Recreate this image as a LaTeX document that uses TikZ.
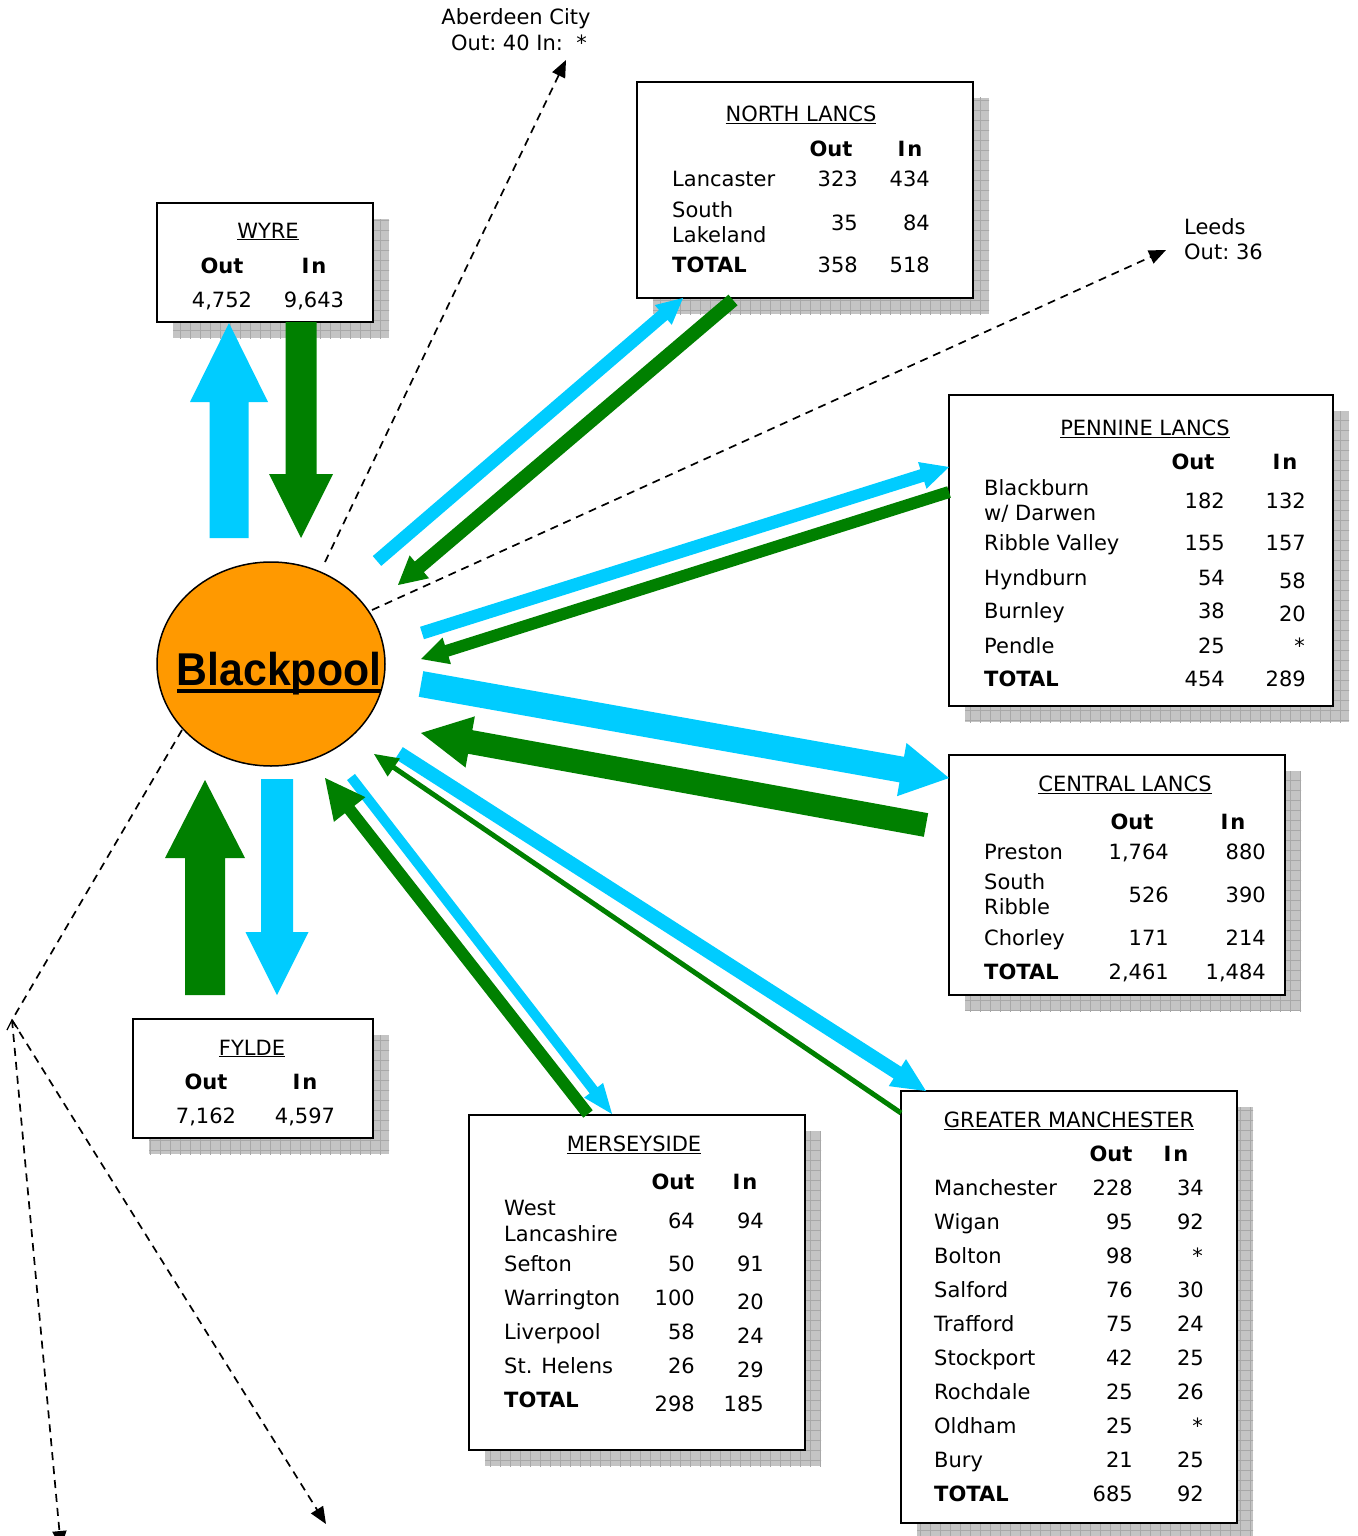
\documentclass[tikz,border=0pt]{standalone}
\usepackage{fontspec}
\setmainfont{DejaVu Sans}
\newfontfamily\arialfont{Liberation Sans}
\usetikzlibrary{arrows.meta,shapes.geometric,calc}
\definecolor{cyc}{RGB}{0,204,255}
\definecolor{grc}{RGB}{0,128,0}
\definecolor{orc}{RGB}{255,153,0}
\definecolor{shadowc}{RGB}{196,196,196}
\definecolor{gridc}{RGB}{168,168,168}
\newcommand\regbox[5]{%
  \begin{scope}
    \clip (#2+16,#3+16) rectangle (#4+16,#5+16);
    \fill[shadowc] (#2+16,#3+16) rectangle (#4+16,#5+16);
    \draw[gridc, line width=0.7pt, step=10pt] (#2,#3) grid (#4+20,#5+20);
  \end{scope}
  \node[regst, anchor=north west, minimum width=#4-#2, minimum height=#5-#3] (#1) at (#2,#3) {};}
% color, start, end, half shaft, half head, head length
\newcommand\blockarr[6]{%
  \path coordinate (bh) at ($(#3)!#6pt!(#2)$);
  \fill[#1] ($(#2)!#4pt!90:(#3)$) -- ($(bh)!#4pt!90:(#3)$) -- ($(bh)!#5pt!90:(#3)$) -- (#3)
     -- ($(bh)!#5pt!-90:(#3)$) -- ($(bh)!#4pt!-90:(#3)$) -- ($(#2)!#4pt!-90:(#3)$) -- cycle;}
\begin{document}
\begin{tikzpicture}[x=1pt,y=-1pt,
  regst/.style={draw=black, fill=white, line width=2pt, inner sep=0pt, outer sep=0pt},
  txt/.style={inner sep=0pt, font=\fontsize{21}{25}\selectfont},
  lt/.style={txt, anchor=base west},
  rt/.style={txt, anchor=base east},
  ct/.style={txt, anchor=base},
  hd/.style={inner sep=0pt, anchor=base, font=\fontsize{21}{25}\selectfont\bfseries},
  bl/.style={inner sep=0pt, anchor=base west, font=\fontsize{21}{25}\selectfont\bfseries},
  dline/.style={black, line width=1.7pt, dash pattern=on 8pt off 6pt, -{Triangle[length=17pt,width=14pt]}}]
\useasboundingbox (0,0) rectangle (1357,1536);
\fill[white] (0,0) rectangle (1357,1536);

% ---------- boxes ----------
\regbox{wyre}{157}{203}{373}{322}
\regbox{nl}{637}{82}{973}{298}
\regbox{pl}{949}{395}{1333}{706}
\regbox{cl}{949}{755}{1285}{995}
\regbox{fy}{133}{1019}{373}{1138}
\regbox{ms}{469}{1115}{805}{1450}
\regbox{gm}{901}{1091}{1237}{1523}

% ---------- Blackpool ----------
\node[ellipse, draw=black, line width=1.5pt, fill=orc, minimum width=228pt, minimum height=204pt, inner sep=0pt] (bp) at (271,664) {};
\node[inner sep=0pt, anchor=base, font=\arialfont\bfseries\fontsize{46}{50}\selectfont] (bpt) at (279,685) {\scalebox{0.93}[1]{Blackpool}};
\draw[line width=4pt] (177,691) -- (381,691);

% ---------- dashed connectors ----------
\coordinate (dA0) at (325,562);
\coordinate (dA1) at (566,60);
\coordinate (dL0) at (372,610);
\coordinate (dL1) at (1166,250);
\coordinate (dC0) at (182,730);
\coordinate (dC1) at (12,1020);
\coordinate (dB1) at (61,1548);
\coordinate (dB2) at (326,1524);
\draw[dline] (dA0) -- (dA1);
\draw[dline] (dL0) -- (dL1);
\draw[black, line width=1.7pt, dash pattern=on 8pt off 6pt] (dC0) -- (dC1);
\draw[dline] (dC1) -- (dB1);
\draw[dline] (dC1) -- (dB2);
\draw[black, line width=1.3pt] ($(dC1)+(-5,10)$) -- (dC1) -- ($(dC1)+(6,9)$);

% ---------- block arrows ----------
% Wyre
\coordinate (w1a) at (229,538); \coordinate (w1b) at (229,323);
\coordinate (w2a) at (301,322); \coordinate (w2b) at (301,538);
\blockarr{cyc}{w1a}{w1b}{19.5}{39}{79}
\blockarr{grc}{w2a}{w2b}{15.5}{32}{64}
% Fylde
\coordinate (f1a) at (205,995); \coordinate (f1b) at (205,780);
\coordinate (f2a) at (277,779); \coordinate (f2b) at (277,995);
\blockarr{grc}{f1a}{f1b}{20}{40}{78}
\blockarr{cyc}{f2a}{f2b}{16}{31.5}{63}
% North Lancs
\coordinate (n1a) at (377,561); \coordinate (n1b) at (683,298);
\coordinate (n2a) at (733,300); \coordinate (n2b) at (398,585);
\blockarr{cyc}{n1a}{n1b}{6.5}{13}{26}
\blockarr{grc}{n2a}{n2b}{7}{15}{28}
% Pennine Lancs
\coordinate (p1a) at (422,633); \coordinate (p1b) at (949,467);
\coordinate (p2a) at (949,492); \coordinate (p2b) at (421,659);
\blockarr{cyc}{p1a}{p1b}{6.5}{14}{28}
\blockarr{grc}{p2a}{p2b}{6}{14}{27}
% Central Lancs
\coordinate (c1a) at (421,684); \coordinate (c1b) at (949,778);
\coordinate (c2a) at (926,825); \coordinate (c2b) at (421,733);
\blockarr{cyc}{c1a}{c1b}{13}{27}{48}
\blockarr{grc}{c2a}{c2b}{12}{26}{50}
% Merseyside
\coordinate (m1a) at (351,777); \coordinate (m1b) at (612,1114);
\coordinate (m2a) at (588,1114); \coordinate (m2b) at (325,778);
\blockarr{cyc}{m1a}{m1b}{5}{12}{30}
\blockarr{grc}{m2a}{m2b}{6}{20}{40}
% Greater Manchester
\coordinate (g1a) at (399,753); \coordinate (g1b) at (926,1091);
\coordinate (g2a) at (901,1113); \coordinate (g2b) at (374,754);
\blockarr{cyc}{g1a}{g1b}{7}{16}{34}
\blockarr{grc}{g2a}{g2b}{2.5}{11}{24}

% ---------- outer labels ----------
\node[ct] (abt1) at (516,25) {Aberdeen City};
\node[ct] (abt2) at (519,51) {Out:\ 40 In:\ \ *};
\node[lt] (ldt1) at (1184,234) {Leeds};
\node[lt] (ldt2) at (1184,259) {Out:\ 36};

% ---------- WYRE ----------
\node[ct] (wyt) at (268,238) {\underline{WYRE}};
\node[hd] (wyo) at (222,273) {Out};
\node[hd] (wyi) at (314,273) {I\kern2pt n};
\node[ct] (wy1) at (222,307) {4,752};
\node[ct] (wy2) at (314,307) {9,643};

% ---------- FYLDE ----------
\node[ct] (fyt) at (252,1055) {\underline{FYLDE}};
\node[hd] (fyo) at (206,1089) {Out};
\node[hd] (fyi) at (305,1089) {I\kern2pt n};
\node[ct] (fy1) at (206,1123) {7,162};
\node[ct] (fy2) at (305,1123) {4,597};

% ---------- NORTH LANCS ----------
\node[ct] (nlt) at (801,122) {\underline{NORTH LANCS}};
\node[hd] (nlo) at (831,157) {Out};
\node[hd] (nli) at (910,157) {I\kern2pt n};
\node[lt] (nla1) at (672,186) {Lancaster};
\node[rt] (nlb1) at (858,186) {323};
\node[rt] (nlc1) at (930,186) {434};
\node[lt] (nla2) at (672,217) {South};
\node[lt] (nla2b) at (672,242) {Lakeland};
\node[rt] (nlb2) at (858,230) {35};
\node[rt] (nlc2) at (930,230) {84};
\node[bl] (nla3) at (672,272) {TOTAL};
\node[rt] (nlb3) at (858,272) {358};
\node[rt] (nlc3) at (930,272) {518};

% ---------- PENNINE LANCS ----------
\node[ct] (plt) at (1145,435) {\underline{PENNINE LANCS}};
\node[hd] (plo) at (1193,469) {Out};
\node[hd] (pli) at (1285,469) {I\kern2pt n};
\node[lt] (pla1) at (984,495) {Blackburn};
\node[lt] (pla1b) at (984,520) {w/ Darwen};
\node[rt] (plb1) at (1225,508) {182};
\node[rt] (plc1) at (1306,508) {132};
\node[lt] (pla2) at (984,550) {Ribble Valley};
\node[rt] (plb2) at (1225,550) {155};
\node[rt] (plc2) at (1306,550) {157};
\node[lt] (pla3) at (984,585) {Hyndburn};
\node[rt] (plb3) at (1225,585) {54};
\node[rt] (plc3) at (1306,588) {58};
\node[lt] (pla4) at (984,618) {Burnley};
\node[rt] (plb4) at (1225,618) {38};
\node[rt] (plc4) at (1306,621) {20};
\node[lt] (pla5) at (984,653) {Pendle};
\node[rt] (plb5) at (1225,653) {25};
\node[rt] (plc5) at (1305,653) {*};
\node[bl] (pla6) at (984,686) {TOTAL};
\node[rt] (plb6) at (1225,686) {454};
\node[rt] (plc6) at (1306,686) {289};

% ---------- CENTRAL LANCS ----------
\node[ct] (clt) at (1125,791) {\underline{CENTRAL LANCS}};
\node[hd] (clo) at (1132,829) {Out};
\node[hd] (cli) at (1233,829) {I\kern2pt n};
\node[lt] (cla1) at (984,859) {Preston};
\node[rt] (clb1) at (1169,859) {1,764};
\node[rt] (clc1) at (1266,859) {880};
\node[lt] (cla2) at (984,889) {South};
\node[lt] (cla2b) at (984,914) {Ribble};
\node[rt] (clb2) at (1169,902) {526};
\node[rt] (clc2) at (1266,902) {390};
\node[lt] (cla3) at (984,945) {Chorley};
\node[rt] (clb3) at (1169,945) {171};
\node[rt] (clc3) at (1266,945) {214};
\node[bl] (cla4) at (984,979) {TOTAL};
\node[rt] (clb4) at (1169,979) {2,461};
\node[rt] (clc4) at (1266,979) {1,484};

% ---------- MERSEYSIDE ----------
\node[ct] (mst) at (634,1151) {\underline{MERSEYSIDE}};
\node[hd] (mso) at (673,1189) {Out};
\node[hd] (msi) at (745,1189) {I\kern2pt n};
\node[lt] (msa1) at (504,1215) {West};
\node[lt] (msa1b) at (504,1241) {Lancashire};
\node[rt] (msb1) at (695,1228) {64};
\node[rt] (msc1) at (764,1228) {94};
\node[lt] (msa2) at (504,1271) {Sefton};
\node[rt] (msb2) at (695,1271) {50};
\node[rt] (msc2) at (764,1271) {91};
\node[lt] (msa3) at (504,1305) {Warrington};
\node[rt] (msb3) at (695,1305) {100};
\node[rt] (msc3) at (764,1309) {20};
\node[lt] (msa4) at (504,1339) {Liverpool};
\node[rt] (msb4) at (695,1339) {58};
\node[rt] (msc4) at (764,1343) {24};
\node[lt] (msa5) at (504,1373) {St. Helens};
\node[rt] (msb5) at (695,1373) {26};
\node[rt] (msc5) at (764,1377) {29};
\node[bl] (msa6) at (504,1407) {TOTAL};
\node[rt] (msb6) at (695,1411) {298};
\node[rt] (msc6) at (764,1411) {185};

% ---------- GREATER MANCHESTER ----------
\node[ct] (gmt) at (1069,1127) {\underline{GREATER MANCHESTER}};
\node[hd] (gmo) at (1111,1161) {Out};
\node[hd] (gmi) at (1176,1161) {I\kern2pt n};
\node[lt] (gma1) at (934,1195) {Manchester};
\node[rt] (gmb1) at (1133,1195) {228};
\node[rt] (gmc1) at (1204,1195) {34};
\node[lt] (gma2) at (934,1229) {Wigan};
\node[rt] (gmb2) at (1133,1229) {95};
\node[rt] (gmc2) at (1204,1229) {92};
\node[lt] (gma3) at (934,1263) {Bolton};
\node[rt] (gmb3) at (1133,1263) {98};
\node[rt] (gmc3) at (1203,1263) {*};
\node[lt] (gma4) at (934,1297) {Salford};
\node[rt] (gmb4) at (1133,1297) {76};
\node[rt] (gmc4) at (1204,1297) {30};
\node[lt] (gma5) at (934,1331) {Trafford};
\node[rt] (gmb5) at (1133,1331) {75};
\node[rt] (gmc5) at (1204,1331) {24};
\node[lt] (gma6) at (934,1365) {Stockport};
\node[rt] (gmb6) at (1133,1365) {42};
\node[rt] (gmc6) at (1204,1365) {25};
\node[lt] (gma7) at (934,1399) {Rochdale};
\node[rt] (gmb7) at (1133,1399) {25};
\node[rt] (gmc7) at (1204,1399) {26};
\node[lt] (gma8) at (934,1433) {Oldham};
\node[rt] (gmb8) at (1133,1433) {25};
\node[rt] (gmc8) at (1203,1433) {*};
\node[lt] (gma9) at (934,1467) {Bury};
\node[rt] (gmb9) at (1133,1467) {21};
\node[rt] (gmc9) at (1204,1467) {25};
\node[bl] (gma10) at (934,1501) {TOTAL};
\node[rt] (gmb10) at (1133,1501) {685};
\node[rt] (gmc10) at (1204,1501) {92};
\end{tikzpicture}
\end{document}
